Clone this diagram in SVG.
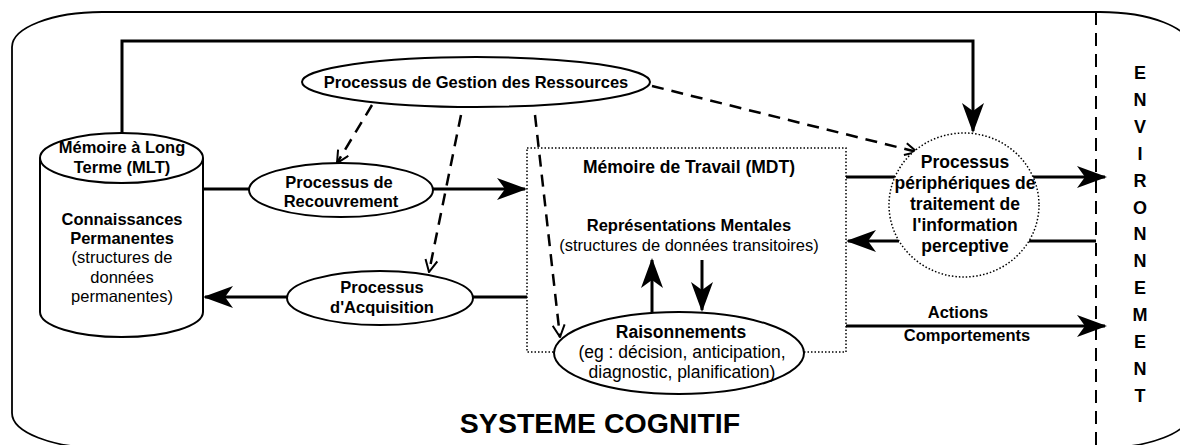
<svg xmlns="http://www.w3.org/2000/svg" width="1180" height="445" viewBox="0 0 1180 445">
<style>
.b{font-family:"Liberation Sans",Arial,sans-serif;font-weight:bold;font-size:16.5px;text-anchor:middle;fill:#000}
.r{font-family:"Liberation Sans",Arial,sans-serif;font-size:16.5px;text-anchor:middle;fill:#000}
.env{font-family:"Liberation Sans",Arial,sans-serif;font-weight:bold;font-size:18px;text-anchor:middle;fill:#000}
.node{fill:#fff;stroke:#000;stroke-width:2}
.dot{fill:none;stroke:#000;stroke-width:1.5;stroke-dasharray:1.5 2}
.sol{fill:none;stroke:#000;stroke-width:3}
.dash{fill:none;stroke:#000;stroke-width:2.5;stroke-dasharray:12 8}
</style>
<defs>
<marker id="ah" viewBox="0 0 30 22" refX="28" refY="11" markerWidth="30" markerHeight="22" orient="auto" markerUnits="userSpaceOnUse">
<path d="M0,0 L30,11 L0,22 L8,11 Z" fill="#000"/>
</marker>
<marker id="va" viewBox="0 0 14 14" refX="13" refY="7" markerWidth="14" markerHeight="14" orient="auto" markerUnits="userSpaceOnUse">
<path d="M1,1 L13,7 L1,13" fill="none" stroke="#000" stroke-width="2"/>
</marker>
</defs>
<rect x="12" y="12" width="1178" height="436" rx="90" ry="35" fill="none" stroke="#000" stroke-width="1.8"/>
<line x1="1096" y1="12" x2="1096" y2="445" stroke="#000" stroke-width="2" stroke-dasharray="13 8"/>
<g id="connectors">
<path class="sol" d="M122,134 L122,41 L973,41 L973,131" marker-end="url(#ah)"/>
<path class="sol" d="M203,189 L250,189"/>
<path class="sol" d="M433,189 L525,189" marker-end="url(#ah)"/>
<path class="sol" d="M527,297 L472,297"/>
<path class="sol" d="M287,297 L205,297" marker-end="url(#ah)"/>
<path class="sol" d="M846,177 L895,177"/>
<path class="sol" d="M1033,177 L1105,177" marker-end="url(#ah)"/>
<path class="sol" d="M1096,241 L1029,241"/>
<path class="sol" d="M899,241 L848,241" marker-end="url(#ah)"/>
<path class="sol" d="M846,326 L1105,326" marker-end="url(#ah)"/>
<path class="sol" d="M652,312 L652,260" marker-end="url(#ah)"/>
<path class="sol" d="M702,260 L702,310" marker-end="url(#ah)"/>
<path class="dash" d="M372,105 L337,163" marker-end="url(#va)"/>
<path class="dash" d="M461,115 L429,272" marker-end="url(#va)"/>
<path class="dash" d="M535,115 L560,337" marker-end="url(#va)"/>
<path class="dash" d="M652,86 L917,152" marker-end="url(#va)"/>
</g>
<g id="mlt">
<path class="node" d="M40,158 L40,312 A81.5,25 0 0 0 203,312 L203,158"/>
<ellipse class="node" cx="121.5" cy="158" rx="81.5" ry="25"/>
<text class="b" x="122" y="153">Mémoire à Long</text>
<text class="b" x="122" y="173">Terme (MLT)</text>
<text class="b" x="122" y="225">Connaissances</text>
<text class="b" x="122" y="244">Permanentes</text>
<text class="r" x="122" y="263">(structures de</text>
<text class="r" x="122" y="283">données</text>
<text class="r" x="122" y="302">permanentes)</text>
</g>
<g id="gestion">
<ellipse class="node" cx="476" cy="82" rx="174" ry="25"/>
<text class="b" x="476" y="88">Processus de Gestion des Ressources</text>
</g>
<g id="recouvrement">
<ellipse class="node" cx="341" cy="190" rx="92" ry="27"/>
<text class="b" x="339" y="188">Processus de</text>
<text class="b" x="341" y="207">Recouvrement</text>
</g>
<g id="acquisition">
<ellipse class="node" cx="380" cy="298" rx="93" ry="27"/>
<text class="b" x="382" y="293">Processus</text>
<text class="b" x="382" y="313">d'Acquisition</text>
</g>
<g id="mdt">
<rect class="dot" x="527" y="148" width="319" height="204"/>
<text class="b" x="689" y="173" style="font-size:17.5px">Mémoire de Travail (MDT)</text>
<text class="b" x="689" y="231">Représentations Mentales</text>
<text class="r" x="689" y="251">(structures de données transitoires)</text>
</g>
<g id="raisonnements">
<ellipse class="node" cx="679" cy="353" rx="125" ry="41"/>
<text class="b" x="681" y="338" style="font-size:17.5px">Raisonnements</text>
<text class="r" x="682" y="358" style="font-size:17.5px">(eg : décision, anticipation,</text>
<text class="r" x="682" y="378" style="font-size:17.5px">diagnostic, planification)</text>
</g>
<g id="peripheriques">
<ellipse cx="964" cy="205" rx="75" ry="72" fill="#fff" stroke="#000" stroke-width="1.5" stroke-dasharray="1.5 2"/>
<text class="b" x="965" y="168" style="font-size:17.5px">Processus</text>
<text class="b" x="965" y="189" style="font-size:17.5px">périphériques de</text>
<text class="b" x="965" y="210" style="font-size:17.5px">traitement de</text>
<text class="b" x="965" y="231" style="font-size:17.5px">l'information</text>
<text class="b" x="965" y="252" style="font-size:17.5px">perceptive</text>
</g>
<g id="actions-label">
<text class="b" x="958" y="318">Actions</text>
<text class="b" x="967" y="341">Comportements</text>
</g>
<g id="environnement">
<text class="env" x="1140" y="79">E</text>
<text class="env" x="1140" y="106">N</text>
<text class="env" x="1140" y="133">V</text>
<text class="env" x="1140" y="160">I</text>
<text class="env" x="1140" y="187">R</text>
<text class="env" x="1140" y="214">O</text>
<text class="env" x="1140" y="240">N</text>
<text class="env" x="1140" y="267">N</text>
<text class="env" x="1140" y="294">E</text>
<text class="env" x="1140" y="321">M</text>
<text class="env" x="1140" y="348">E</text>
<text class="env" x="1140" y="375">N</text>
<text class="env" x="1140" y="402">T</text>
</g>
<text class="b" x="600" y="433" style="font-size:28.5px">SYSTEME COGNITIF</text>
</svg>
